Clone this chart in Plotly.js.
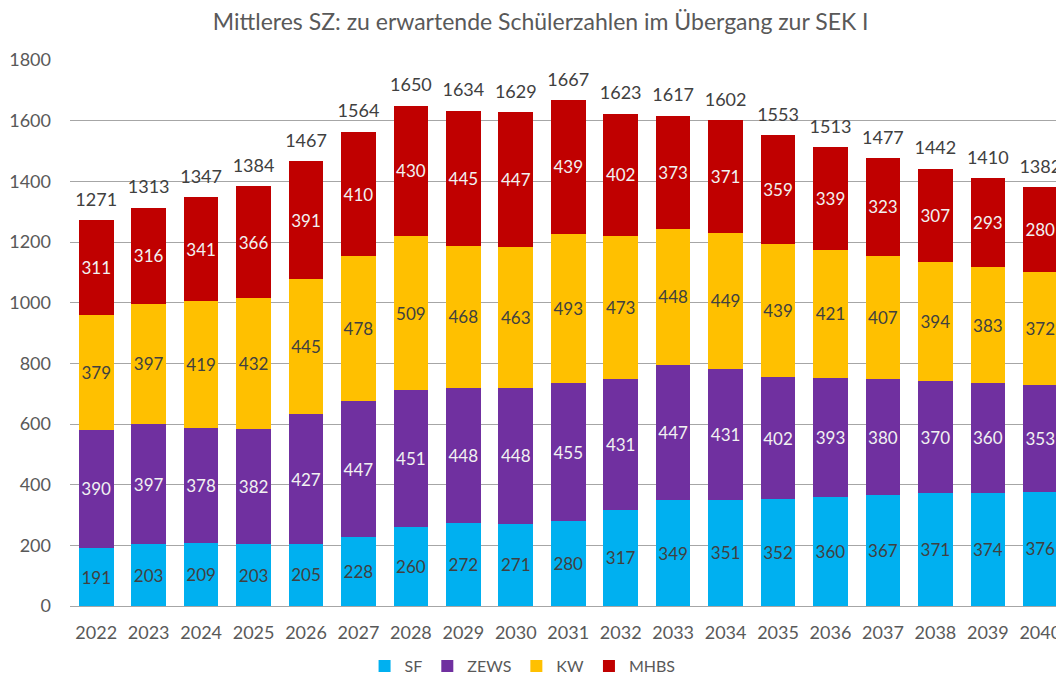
<!DOCTYPE html>
<html>
<head>
<meta charset="utf-8">
<script src="https://cdn.plot.ly/plotly-3.0.1.min.js"></script>
<style>
html,body{margin:0;padding:0;background:#fff;overflow:hidden;}
#chart{width:1056px;height:678px;}
</style>
</head>
<body>
<div id="chart"></div>
<script>
const years = ['2022','2023','2024','2025','2026','2027','2028','2029','2030','2031','2032','2033','2034','2035','2036','2037','2038','2039','2040'];
const SF   = [191,203,209,203,205,228,260,272,271,280,317,349,351,352,360,367,371,374,376];
const ZEWS = [390,397,378,382,427,447,451,448,448,455,431,447,431,402,393,380,370,360,353];
const KW   = [379,397,419,432,445,478,509,468,463,493,473,448,449,439,421,407,394,383,372];
const MHBS = [311,316,341,366,391,410,430,445,447,439,402,373,371,359,339,323,307,293,280];
const totals = [1271,1313,1347,1384,1467,1564,1650,1634,1629,1667,1623,1617,1602,1553,1513,1477,1442,1410,1382];

const FONT = 'Lato, "Open Sans", "DejaVu Sans", sans-serif';

function barTrace(name, vals, color, txtColor){
  return {
    type:'bar', name:name, x:years, y:vals, marker:{color:color},
    text:vals.map(String), textposition:'inside', insidetextanchor:'middle',
    textangle:0, constraintext:'none',
    textfont:{family:FONT, size:17, color:txtColor},
    hoverinfo:'x+y+name'
  };
}

const data = [
  barTrace('SF', SF, '#00B0F0', '#404040'),
  barTrace('ZEWS', ZEWS, '#7030A0', '#F2F2F2'),
  barTrace('KW', KW, '#FFC000', '#404040'),
  barTrace('MHBS', MHBS, '#C00000', '#F2F2F2'),
  {
    type:'scatter', mode:'markers+text', x:years, y:totals, text:totals.map(String),
    marker:{size:14, opacity:0, color:'#ffffff'},
    textposition:'top center', textfont:{family:FONT, size:18, color:'#404040'},
    showlegend:false, cliponaxis:false, hoverinfo:'skip'
  }
];

const layout = {
  width:1056, height:678,
  margin:{l:70, r:0, t:60, b:72, autoexpand:false},
  paper_bgcolor:'#fff', plot_bgcolor:'#fff',
  barmode:'stack', bargap:0.34,
  title:{text:'Mittleres SZ: zu erwartende Schülerzahlen im Übergang zur SEK I',
         font:{family:FONT, size:23, color:'#595959'},
         x:0.512, xref:'container', xanchor:'center', y:0.967, yref:'container', yanchor:'middle'},
  xaxis:{type:'category', range:[-0.5,18.3], autorange:false, showgrid:false, zeroline:false, showline:false,
         ticks:'', ticklabelstandoff:14, tickangle:0, automargin:false,
         tickfont:{family:FONT, size:18, color:'#595959'}},
  yaxis:{range:[0,1800], autorange:false, dtick:200, showgrid:true, gridcolor:'#A6A6A6', gridwidth:1,
         zeroline:true, zerolinecolor:'#A6A6A6', showline:false, ticks:'', automargin:false,
         ticklabelstandoff:18,
         tickfont:{family:FONT, size:18, color:'#595959'}},
  legend:{orientation:'h', x:0.459, xanchor:'center',
          y:-0.11, yanchor:'middle', traceorder:'normal', itemwidth:30,
          font:{family:FONT, size:16, color:'#595959'}},
  showlegend:true
};

Plotly.newPlot('chart', data, layout, {displayModeBar:false, staticPlot:true});
</script>
</body>
</html>
